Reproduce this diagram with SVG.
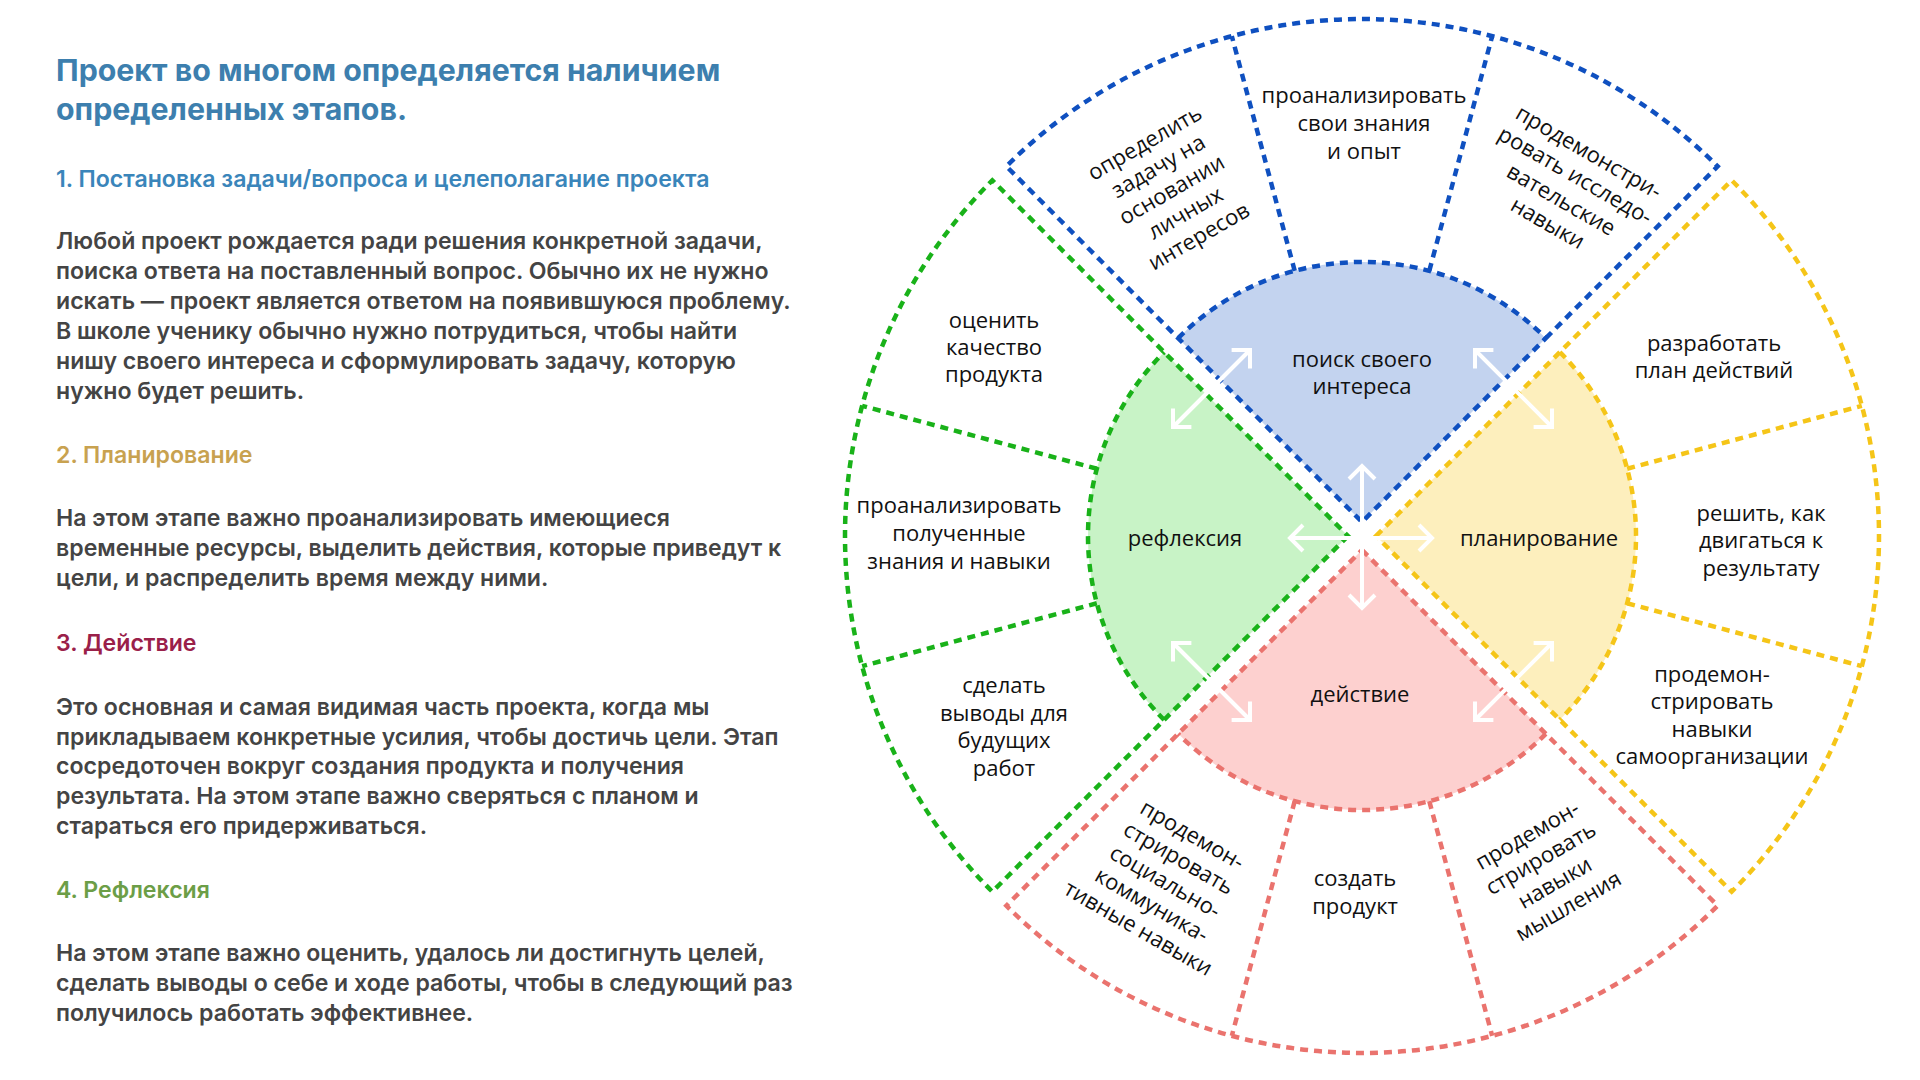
<svg xmlns="http://www.w3.org/2000/svg" width="1920" height="1080" viewBox="0 0 1920 1080">
<style>
.lt{font-family:Inter,"Noto Sans",sans-serif;font-weight:600}
.title{font-size:30.3px;fill:#3d7fae;font-weight:700}
.h1{font-size:23.1px;fill:#3a85ba}
.h2{font-size:23.1px;fill:#c8a250}
.h3{font-size:23.1px;fill:#9a2049}
.h4{font-size:23.1px;fill:#6c9e47}
.body{font-size:23.1px;fill:#444444}
.dt{font-family:"Open Sans","Noto Sans",sans-serif;font-size:22px;fill:#111;text-anchor:middle}
.dash{fill:none;stroke-width:4.5;stroke-dasharray:8 6}
.b{stroke:#0f50c0}.g{stroke:#19b219}.y{stroke:#f5c518}.r{stroke:#ea736e}
.arr{fill:none;stroke:#fff;stroke-width:4;marker-start:url(#ah);marker-end:url(#ah)}
</style>
<defs>
<marker id="ah" viewBox="-16 -16 32 32" markerWidth="32" markerHeight="32" refX="0" refY="0" markerUnits="userSpaceOnUse" orient="auto-start-reverse" overflow="visible">
<path d="M-13,-13 L0,0 L-13,13" fill="none" stroke="#fff" stroke-width="4"/>
</marker>
</defs>
<rect width="1920" height="1080" fill="#fff"/>

<g id="text-panel" class="lt">
<text class="title" x="56" y="81">Проект во многом определяется наличием</text>
<text class="title" x="56" y="120">определенных этапов.</text>
<text class="h1" x="56" y="187">1. Постановка задачи/вопроса и целеполагание проекта</text>
<text class="body" x="56" y="249">Любой проект рождается ради решения конкретной задачи,</text>
<text class="body" x="56" y="279">поиска ответа на поставленный вопрос. Обычно их не нужно</text>
<text class="body" x="56" y="309">искать — проект является ответом на появившуюся проблему.</text>
<text class="body" x="56" y="339">В школе ученику обычно нужно потрудиться, чтобы найти</text>
<text class="body" x="56" y="369">нишу своего интереса и сформулировать задачу, которую</text>
<text class="body" x="56" y="399">нужно будет решить.</text>
<text class="h2" x="56" y="463">2. Планирование</text>
<text class="body" x="56" y="526">На этом этапе важно проанализировать имеющиеся</text>
<text class="body" x="56" y="556">временные ресурсы, выделить действия, которые приведут к</text>
<text class="body" x="56" y="586">цели, и распределить время между ними.</text>
<text class="h3" x="56" y="651">3. Действие</text>
<text class="body" x="56" y="715">Это основная и самая видимая часть проекта, когда мы</text>
<text class="body" x="56" y="745">прикладываем конкретные усилия, чтобы достичь цели. Этап</text>
<text class="body" x="56" y="774">сосредоточен вокруг создания продукта и получения</text>
<text class="body" x="56" y="804">результата. На этом этапе важно сверяться с планом и</text>
<text class="body" x="56" y="834">стараться его придерживаться.</text>
<text class="h4" x="56" y="898">4. Рефлексия</text>
<text class="body" x="56" y="961">На этом этапе важно оценить, удалось ли достигнуть целей,</text>
<text class="body" x="56" y="991">сделать выводы о себе и ходе работы, чтобы в следующий раз</text>
<text class="body" x="56" y="1021">получилось работать эффективнее.</text>
</g>

<g id="q-interest">
<path d="M1362,522 L1178.15,338.15 A260,260 0 0 1 1545.85,338.15 Z" fill="#c3d3ef"/>
<path class="dash b" d="M1545.85,338.15 L1717.67,166.33 A503,503 0 0 0 1006.33,166.33 L1362,522 Z"/>
<path class="dash b" d="M1178.15,338.15 A260,260 0 0 1 1545.85,338.15"/>
<path class="dash b" d="M1294.71,270.86 L1231.81,36.14 M1429.29,270.86 L1492.19,36.14"/>
<text class="dt" x="1362" y="367">поиск своего</text>
<text class="dt" x="1362" y="394">интереса</text>
<g transform="translate(1172,190) rotate(-30)">
<text class="dt" x="0" y="-47">определить</text>
<text class="dt" x="0" y="-20">задачу на</text>
<text class="dt" x="0" y="7">основании</text>
<text class="dt" x="0" y="34">личных</text>
<text class="dt" x="0" y="61">интересов</text>
</g>
<text class="dt" x="1364" y="103">проанализировать</text>
<text class="dt" x="1364" y="131">свои знания</text>
<text class="dt" x="1364" y="159">и опыт</text>
<g transform="translate(1568,188) rotate(30)">
<text class="dt" x="0" y="-34">продемонстри-</text>
<text class="dt" x="0" y="-7">ровать исследо-</text>
<text class="dt" x="0" y="21">вательские</text>
<text class="dt" x="0" y="48">навыки</text>
</g>
</g>

<g id="q-planning">
<path d="M1376,536 L1559.85,352.15 A260,260 0 0 1 1559.85,719.85 Z" fill="#fdefbd"/>
<path class="dash y" d="M1376,536 L1731.67,180.33 A503,503 0 0 1 1731.67,891.67 Z"/>
<path class="dash y" d="M1559.85,352.15 A260,260 0 0 1 1559.85,719.85"/>
<path class="dash y" d="M1627.14,468.71 L1861.86,405.81 M1627.14,603.29 L1861.86,666.19"/>
<text class="dt" x="1539" y="546">планирование</text>
<text class="dt" x="1714" y="351">разработать</text>
<text class="dt" x="1714" y="378">план действий</text>
<text class="dt" x="1761" y="521">решить, как</text>
<text class="dt" x="1761" y="548">двигаться к</text>
<text class="dt" x="1761" y="576">результату</text>
<text class="dt" x="1712" y="682">продемон-</text>
<text class="dt" x="1712" y="709">стрировать</text>
<text class="dt" x="1712" y="737">навыки</text>
<text class="dt" x="1712" y="764">самоорганизации</text>
</g>

<g id="q-action">
<path d="M1362,550 L1545.85,733.85 A260,260 0 0 1 1178.15,733.85 Z" fill="#fdd0cf"/>
<path class="dash r" d="M1362,550 L1717.67,905.67 A503,503 0 0 1 1006.33,905.67 Z"/>
<path class="dash r" d="M1545.85,733.85 A260,260 0 0 1 1178.15,733.85"/>
<path class="dash r" d="M1429.29,801.14 L1492.19,1035.86 M1294.71,801.14 L1231.81,1035.86"/>
<text class="dt" x="1360" y="702">действие</text>
<g transform="translate(1165,882) rotate(30)">
<text class="dt" x="0" y="-47">продемон-</text>
<text class="dt" x="0" y="-20">стрировать</text>
<text class="dt" x="0" y="7">социально-</text>
<text class="dt" x="0" y="34">коммуника-</text>
<text class="dt" x="0" y="61">тивные навыки</text>
</g>
<text class="dt" x="1355" y="886">создать</text>
<text class="dt" x="1355" y="914">продукт</text>
<g transform="translate(1548,871) rotate(-30)">
<text class="dt" x="0" y="-34">продемон-</text>
<text class="dt" x="0" y="-7">стрировать</text>
<text class="dt" x="0" y="21">навыки</text>
<text class="dt" x="0" y="48">мышления</text>
</g>
</g>

<g id="q-reflection">
<path d="M1348,536 L1164.15,719.85 A260,260 0 0 1 1164.15,352.15 Z" fill="#c8f3c6"/>
<path class="dash g" d="M1348,536 L992.33,891.67 A503,503 0 0 1 992.33,180.33 Z"/>
<path class="dash g" d="M1164.15,719.85 A260,260 0 0 1 1164.15,352.15"/>
<path class="dash g" d="M1096.86,603.29 L862.14,666.19 M1096.86,468.71 L862.14,405.81"/>
<text class="dt" x="1185" y="546">рефлексия</text>
<text class="dt" x="994" y="328">оценить</text>
<text class="dt" x="994" y="355">качество</text>
<text class="dt" x="994" y="382">продукта</text>
<text class="dt" x="959" y="513">проанализировать</text>
<text class="dt" x="959" y="541">полученные</text>
<text class="dt" x="959" y="569">знания и навыки</text>
<text class="dt" x="1004" y="693">сделать</text>
<text class="dt" x="1004" y="721">выводы для</text>
<text class="dt" x="1004" y="748">будущих</text>
<text class="dt" x="1004" y="776">работ</text>
</g>

<g id="connectors">
<line class="arr" x1="1362" y1="466" x2="1362" y2="608"/>
<line class="arr" x1="1290" y1="538" x2="1432" y2="538"/>
<line class="arr" x1="1173" y1="427" x2="1250" y2="350"/>
<line class="arr" x1="1475" y1="350" x2="1552" y2="427"/>
<line class="arr" x1="1173" y1="643" x2="1250" y2="720"/>
<line class="arr" x1="1475" y1="720" x2="1552" y2="643"/>
</g>
</svg>
